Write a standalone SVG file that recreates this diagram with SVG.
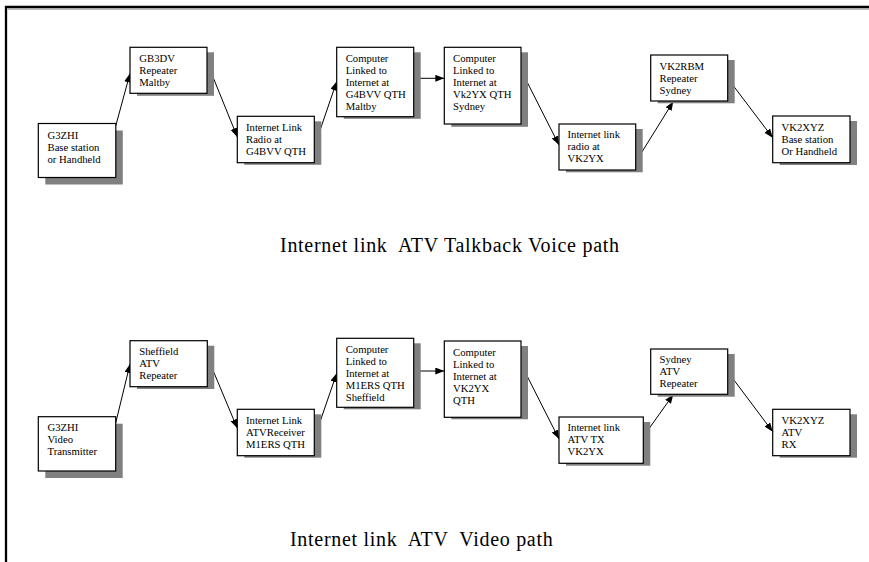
<svg xmlns="http://www.w3.org/2000/svg" width="869" height="562" viewBox="0 0 869 562">
<style>
.box{fill:#fff;stroke:#000;stroke-width:1.2}
.sh{fill:#808080;stroke:none}
.t{font-family:"Liberation Serif","Times New Roman",serif;font-size:10.7px;fill:#000}
.cap{font-family:"Liberation Serif","Times New Roman",serif;font-size:20px;fill:#000}
.c{stroke:#000;stroke-width:1;fill:none;marker-end:url(#ah)}
</style>
<defs>
<marker id="ah" markerUnits="userSpaceOnUse" markerWidth="10" markerHeight="8" refX="9" refY="3.5" orient="auto">
<path d="M0,0 L9,3.5 L0,7 z" fill="#000"/>
</marker>
</defs>
<rect width="869" height="562" fill="#fff"/>
<g id="frame">
<path d="M8,9.2 H869" stroke="#a0a0a0" stroke-width="1" fill="none"/>
<path d="M6,562 V7 H869" stroke="#000" stroke-width="2.3" fill="none"/>
</g>

<g id="connectors">
<path class="c" d="M115.7,126 L130,73.5"/>
<path class="c" d="M207.3,63 L237.3,137"/>
<path class="c" d="M314.3,147 L336.7,81.5"/>
<path class="c" d="M413.7,78.3 L444.3,78.3"/>
<path class="c" d="M521,70 L559,145"/>
<path class="c" d="M635.7,162 L673.3,101.5"/>
<path class="c" d="M727.7,78.3 L772.7,137.7"/>
<path class="c" d="M115.7,423 L130,364"/>
<path class="c" d="M207.3,356.7 L237.3,428.3"/>
<path class="c" d="M314.3,438.5 L336.7,373.3"/>
<path class="c" d="M413.7,371 L444.3,371"/>
<path class="c" d="M521,364 L559,439"/>
<path class="c" d="M643.3,436.7 L673.3,394.5"/>
<path class="c" d="M727.7,371.7 L772.7,431.7"/>
</g>

<g id="a1">
<rect class="sh" x="45.3" y="130.5" width="77.5" height="54"/>
<rect class="box" x="38.3" y="123.5" width="77.5" height="54"/>
<text class="t" x="47.5" y="138.5">G3ZHI</text>
<text class="t" x="47.5" y="150.5">Base station</text>
<text class="t" x="47.5" y="162.5">or Handheld</text>
</g>
<g id="a2">
<rect class="sh" x="137" y="52.3" width="77" height="43.5"/>
<rect class="box" x="130" y="47.3" width="77" height="46"/>
<text class="t" x="139.3" y="61.5">GB3DV</text>
<text class="t" x="139.3" y="73.5">Repeater</text>
<text class="t" x="139.3" y="85.5">Maltby</text>
</g>
<g id="a3">
<rect class="sh" x="244.3" y="121.3" width="77" height="43.5"/>
<rect class="box" x="237.3" y="116.3" width="77" height="46.4"/>
<text class="t" x="246" y="130.5">Internet Link</text>
<text class="t" x="246" y="142.5">Radio at</text>
<text class="t" x="246" y="154.5">G4BVV QTH</text>
</g>
<g id="a4">
<rect class="sh" x="343.7" y="52.3" width="77" height="66.5"/>
<rect class="box" x="336.7" y="47.3" width="77" height="69.4"/>
<text class="t" x="345.7" y="62">Computer</text>
<text class="t" x="345.7" y="74">Linked to</text>
<text class="t" x="345.7" y="86">Internet at</text>
<text class="t" x="345.7" y="98">G4BVV QTH</text>
<text class="t" x="345.7" y="110">Maltby</text>
</g>
<g id="a5">
<rect class="sh" x="451.3" y="52.3" width="76.7" height="74.5"/>
<rect class="box" x="444.3" y="47.3" width="76.7" height="76.7"/>
<text class="t" x="453" y="62">Computer</text>
<text class="t" x="453" y="74">Linked to</text>
<text class="t" x="453" y="86">Internet at</text>
<text class="t" x="453" y="98">Vk2YX QTH</text>
<text class="t" x="453" y="110">Sydney</text>
</g>
<g id="a6">
<rect class="sh" x="566" y="129" width="76.7" height="43.3"/>
<rect class="box" x="559" y="124" width="76.7" height="46"/>
<text class="t" x="567.5" y="137.5">Internet link</text>
<text class="t" x="567.5" y="149.5">radio at</text>
<text class="t" x="567.5" y="161.5">VK2YX</text>
</g>
<g id="a7">
<rect class="sh" x="657.7" y="60" width="77" height="43.3"/>
<rect class="box" x="650.7" y="55" width="77" height="46"/>
<text class="t" x="659.5" y="69.5">VK2RBM</text>
<text class="t" x="659.5" y="81.5">Repeater</text>
<text class="t" x="659.5" y="93.5">Sydney</text>
</g>
<g id="a8">
<rect class="sh" x="779.7" y="121" width="77.3" height="44"/>
<rect class="box" x="772.7" y="116" width="77.3" height="46.7"/>
<text class="t" x="781.5" y="130.5">VK2XYZ</text>
<text class="t" x="781.5" y="142.5">Base station</text>
<text class="t" x="781.5" y="154.5">Or Handheld</text>
</g>

<g id="b1">
<rect class="sh" x="45.3" y="423.7" width="77.4" height="54.3"/>
<rect class="box" x="38.3" y="416.7" width="77.4" height="54.3"/>
<text class="t" x="47.5" y="431">G3ZHI</text>
<text class="t" x="47.5" y="443">Video</text>
<text class="t" x="47.5" y="455">Transmitter</text>
</g>
<g id="b2">
<rect class="sh" x="137" y="345.7" width="77.3" height="43.3"/>
<rect class="box" x="130" y="340.7" width="77.3" height="46"/>
<text class="t" x="139.3" y="354.5">Sheffield</text>
<text class="t" x="139.3" y="366.5">ATV</text>
<text class="t" x="139.3" y="378.5">Repeater</text>
</g>
<g id="b3">
<rect class="sh" x="244.3" y="414.3" width="77" height="43.4"/>
<rect class="box" x="237.3" y="409.3" width="77" height="46.4"/>
<text class="t" x="246" y="423.5">Internet Link</text>
<text class="t" x="246" y="435.5">ATVReceiver</text>
<text class="t" x="246" y="447.5">M1ERS QTH</text>
</g>
<g id="b4">
<rect class="sh" x="343.7" y="343.3" width="77" height="66"/>
<rect class="box" x="336.7" y="338.3" width="77" height="69"/>
<text class="t" x="345.7" y="353">Computer</text>
<text class="t" x="345.7" y="365">Linked to</text>
<text class="t" x="345.7" y="377">Internet at</text>
<text class="t" x="345.7" y="389">M1ERS QTH</text>
<text class="t" x="345.7" y="401">Sheffield</text>
</g>
<g id="b5">
<rect class="sh" x="451.3" y="346" width="76.7" height="73.3"/>
<rect class="box" x="444.3" y="341" width="76.7" height="76.3"/>
<text class="t" x="453" y="355.5">Computer</text>
<text class="t" x="453" y="367.5">Linked to</text>
<text class="t" x="453" y="379.5">Internet at</text>
<text class="t" x="453" y="391.5">VK2YX</text>
<text class="t" x="453" y="403.5">QTH</text>
</g>
<g id="b6">
<rect class="sh" x="566" y="422" width="84.3" height="43.7"/>
<rect class="box" x="559" y="417" width="84.3" height="46.3"/>
<text class="t" x="567.5" y="431">Internet link</text>
<text class="t" x="567.5" y="443">ATV TX</text>
<text class="t" x="567.5" y="455">VK2YX</text>
</g>
<g id="b7">
<rect class="sh" x="657.7" y="354" width="77" height="42.7"/>
<rect class="box" x="650.7" y="349" width="77" height="45.3"/>
<text class="t" x="659.5" y="363">Sydney</text>
<text class="t" x="659.5" y="375">ATV</text>
<text class="t" x="659.5" y="387">Repeater</text>
</g>
<g id="b8">
<rect class="sh" x="779.7" y="414.3" width="77.3" height="43.4"/>
<rect class="box" x="772.7" y="409.3" width="77.3" height="46.4"/>
<text class="t" x="781.5" y="423.5">VK2XYZ</text>
<text class="t" x="781.5" y="435.5">ATV</text>
<text class="t" x="781.5" y="447.5">RX</text>
</g>

<g id="captions">
<text class="cap" x="280" y="252.3" textLength="339" lengthAdjust="spacing" xml:space="preserve">Internet link  ATV Talkback Voice path</text>
<text class="cap" x="290" y="545.5" textLength="262.7" lengthAdjust="spacing" xml:space="preserve">Internet link  ATV  Video path</text>
</g>
</svg>
